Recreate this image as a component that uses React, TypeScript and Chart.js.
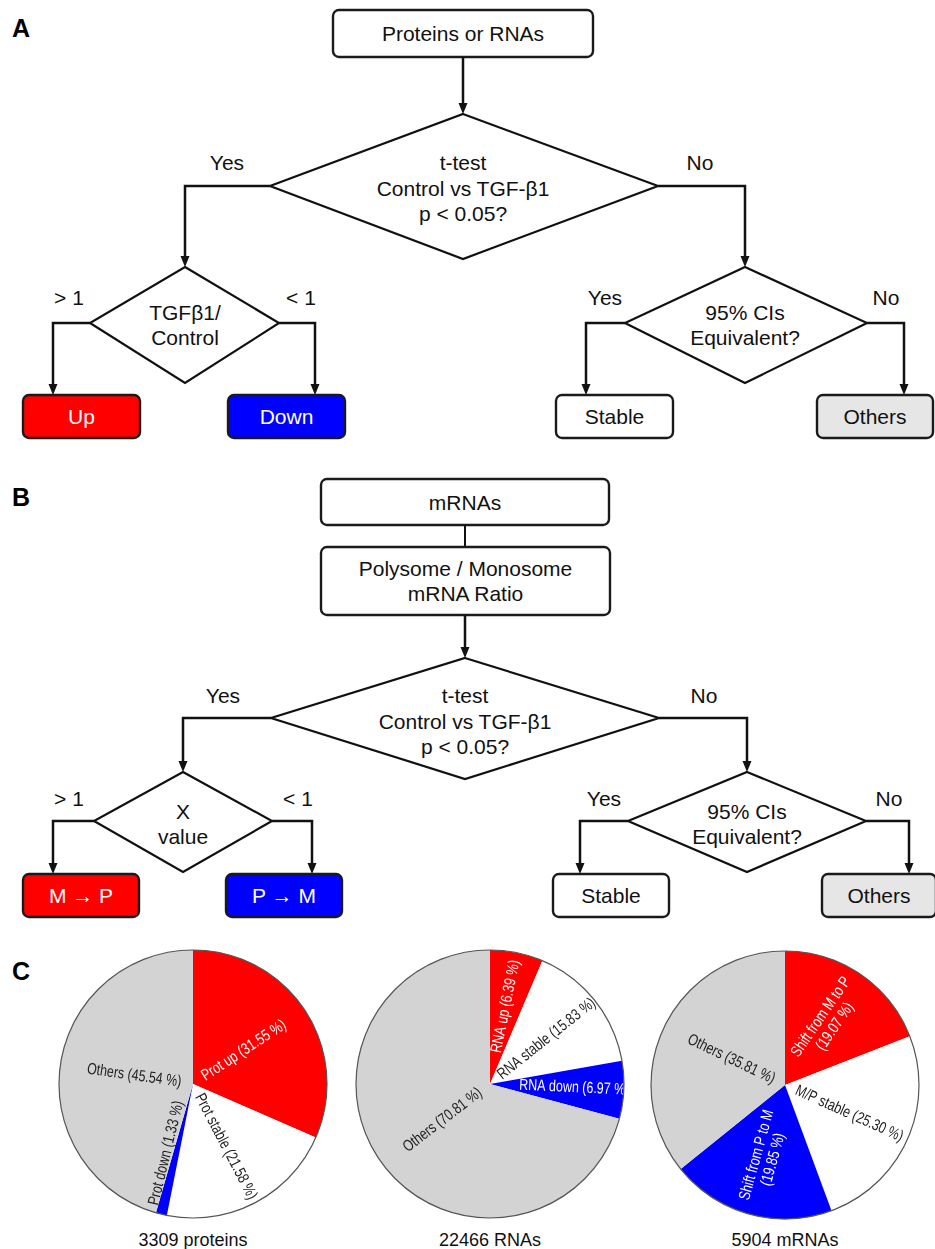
import React, { useEffect, useRef } from "react";
import { Chart, registerables } from "chart.js";

Chart.register(...registerables);

// ---------- Pie data (panel C) ----------
const protCategories = ["Prot up", "Prot stable", "Prot down", "Others"];
const protValues = [31.55, 21.58, 1.33, 45.54];
const protWrap = [false, false, false, false];
const protLabelColors = ["#ffffff", "#222222", "#222222", "#222222"];

const rnaCategories = ["RNA up", "RNA stable", "RNA down", "Others"];
const rnaValues = [6.39, 15.83, 6.97, 70.81];
const rnaWrap = [false, false, false, false];
const rnaLabelColors = ["#ffffff", "#222222", "#ffffff", "#222222"];

const mrnaCategories = ["Shift from M to P", "M/P stable", "Shift from P to M", "Others"];
const mrnaValues = [19.07, 25.3, 19.85, 35.81];
const mrnaWrap = [true, false, true, false];
const mrnaLabelColors = ["#ffffff", "#222222", "#ffffff", "#222222"];

const sliceColors = ["#ff0000", "#ffffff", "#0000ff", "#d3d3d3"];
const pieTitles = ["3309 proteins", "22466 RNAs", "5904 mRNAs"];

const FONT = "'Liberation Sans', Arial, Helvetica, sans-serif";

function labelText(cat: string, v: number, wrap: boolean) {
  const pct = `(${v.toFixed(2)} %)`;
  return wrap ? `${cat}\n${pct}` : `${cat} ${pct}`;
}

const LABEL_SIZE = 16;
const LABEL_SX = 0.78;

const pieDecor = {
  id: "pieDecor",
  afterDatasetsDraw(chart: any, _args: any, opts: any) {
    const ctx = chart.ctx;
    const meta = chart.getDatasetMeta(0);
    let cx = 0, cy = 0, r = 0;
    meta.data.forEach((arc: any, i: number) => {
      const p = arc.getProps(["x", "y", "startAngle", "endAngle", "outerRadius"], true);
      cx = p.x; cy = p.y; r = p.outerRadius;
      const span = p.endAngle - p.startAngle;
      const mid = (p.startAngle + p.endAngle) / 2;
      const narrow = span < 0.15;
      const lines = String(opts.texts[i]).split("\n");
      ctx.save();
      ctx.font = `${LABEL_SIZE}px ${FONT}`;
      const w = Math.max(...lines.map((l: string) => ctx.measureText(l).width)) * LABEL_SX;
      const halfH = 6.5 + (lines.length - 1) * 14;
      const d0 = narrow ? 20 : Math.max(12, halfH / Math.tan(Math.min(span / 2, 1.4)));
      const d = d0 + w / 2;
      const flip = Math.cos(mid) < 0;
      const lx = p.x + Math.cos(mid) * d;
      const ly = p.y + Math.sin(mid) * d;
      ctx.translate(lx, ly);
      ctx.rotate(flip ? mid + Math.PI : mid);
      ctx.scale(LABEL_SX, 1);
      ctx.fillStyle = opts.colors[i];
      ctx.textAlign = "center";
      ctx.textBaseline = "middle";
      const shift = narrow ? -LABEL_SIZE * 0.6 : 0;
      lines.forEach((ln: string, k: number) => {
        ctx.fillText(ln, 0, shift + (k - (lines.length - 1) / 2) * 17);
      });
      ctx.restore();
    });
    ctx.save();
    ctx.beginPath();
    ctx.arc(cx, cy, r, 0, Math.PI * 2);
    ctx.strokeStyle = "#555555";
    ctx.lineWidth = 1.2;
    ctx.stroke();
    ctx.restore();
  },
};

function PieChart(props: { categories: string[]; values: number[]; wrap: boolean[]; colors: string[]; cx: number; cy: number }) {
  const ref = useRef<HTMLCanvasElement | null>(null);
  useEffect(() => {
    if (!ref.current) return;
    const texts = props.categories.map((c, i) => labelText(c, props.values[i], props.wrap[i]));
    const chart = new Chart(ref.current, {
      type: "pie",
      data: {
        labels: props.categories,
        datasets: [
          {
            data: props.values,
            backgroundColor: sliceColors,
            borderWidth: 0,
          },
        ],
      },
      options: {
        responsive: false,
        animation: false,
        events: [],
        layout: { padding: 6 },
        plugins: {
          legend: { display: false },
          tooltip: { enabled: false },
          pieDecor: { texts, colors: props.colors },
        } as any,
      },
      plugins: [pieDecor as any],
    });
    return () => chart.destroy();
  }, []);
  const size = 280;
  return (
    <canvas
      ref={ref}
      width={size}
      height={size}
      style={{ position: "absolute", left: props.cx - size / 2, top: props.cy - size / 2, width: size, height: size }}
    />
  );
}

// ---------- Flowchart helpers ----------
const LW = 2.5;
const INK = "#111111";

function Arrow({ x, y1, y2 }: { x: number; y1: number; y2: number }) {
  return (
    <g>
      <line x1={x} y1={y1} x2={x} y2={y2 - 8} stroke={INK} strokeWidth={LW} />
      <polygon points={`${x - 4.5},${y2 - 11} ${x + 4.5},${y2 - 11} ${x},${y2}`} fill={INK} />
    </g>
  );
}

function Elbow({ x1, y1, x2, y2 }: { x1: number; y1: number; x2: number; y2: number }) {
  return (
    <g>
      <polyline points={`${x1},${y1} ${x2},${y1} ${x2},${y2 - 8}`} fill="none" stroke={INK} strokeWidth={LW} strokeLinejoin="miter" />
      <polygon points={`${x2 - 4.5},${y2 - 11} ${x2 + 4.5},${y2 - 11} ${x2},${y2}`} fill={INK} />
    </g>
  );
}

function Box({ x, y, w, h, fill, lines, color }: { x: number; y: number; w: number; h: number; fill: string; lines: string[]; color?: string }) {
  const cyc = y + h / 2;
  const lh = 25;
  return (
    <g>
      <rect x={x} y={y} width={w} height={h} rx={6} ry={6} fill={fill} stroke="#1a1a1a" strokeWidth={2.4} />
      {lines.map((t, i) => (
        <text key={i} x={x + w / 2} y={cyc + 7.5 + (i - (lines.length - 1) / 2) * lh} textAnchor="middle" fontSize={21} fontFamily={FONT} fill={color || INK}>
          {t}
        </text>
      ))}
    </g>
  );
}

function Diamond({ cx, top, bottom, left, right, midY, lines }: { cx: number; top: number; bottom: number; left: number; right: number; midY: number; lines: { t: string; y: number }[] }) {
  return (
    <g>
      <polygon points={`${cx},${top} ${right},${midY} ${cx},${bottom} ${left},${midY}`} fill="#ffffff" stroke={INK} strokeWidth={2.2} strokeLinejoin="miter" />
      {lines.map((l, i) => (
        <text key={i} x={cx} y={l.y} textAnchor="middle" fontSize={21} fontFamily={FONT} fill={INK}>
          {l.t}
        </text>
      ))}
    </g>
  );
}

function Label({ x, y, t }: { x: number; y: number; t: string }) {
  return (
    <text x={x} y={y} textAnchor="middle" fontSize={21} fontFamily={FONT} fill={INK}>
      {t}
    </text>
  );
}

function PanelLetter({ x, y, t }: { x: number; y: number; t: string }) {
  return (
    <text x={x} y={y} fontSize={25} fontWeight="bold" fontFamily={FONT} fill="#000">
      {t}
    </text>
  );
}

function Flowcharts() {
  return (
    <svg width={935} height={1249} style={{ position: "absolute", left: 0, top: 0 }}>
      {/* Panel A */}
      <PanelLetter x={12} y={37} t="A" />
      <Box x={333} y={10} w={260} h={47} fill="#fff" lines={["Proteins or RNAs"]} />
      <Arrow x={463} y1={57} y2={114} />
      <Diamond cx={463} top={114} bottom={259} left={270} right={658} midY={186}
        lines={[{ t: "t-test", y: 170 }, { t: "Control vs TGF-β1", y: 196 }, { t: "p < 0.05?", y: 221 }]} />
      <Label x={227} y={170} t="Yes" />
      <Label x={700} y={170} t="No" />
      <Elbow x1={270} y1={186} x2={185} y2={267} />
      <Elbow x1={658} y1={186} x2={745} y2={267} />
      <Diamond cx={185} top={267} bottom={383} left={90} right={279} midY={323}
        lines={[{ t: "TGFβ1/", y: 320 }, { t: "Control", y: 345 }]} />
      <Label x={69} y={305} t="> 1" />
      <Label x={301} y={305} t="< 1" />
      <Elbow x1={90} y1={323} x2={53} y2={395} />
      <Elbow x1={279} y1={323} x2={315} y2={395} />
      <Box x={23} y={395} w={117} h={43} fill="#ff0000" color="#ffffff" lines={["Up"]} />
      <Box x={228} y={395} w={117} h={43} fill="#0000ff" color="#ffffff" lines={["Down"]} />
      <Diamond cx={745} top={267} bottom={383} left={625} right={867} midY={323}
        lines={[{ t: "95% CIs", y: 320 }, { t: "Equivalent?", y: 345 }]} />
      <Label x={605} y={305} t="Yes" />
      <Label x={886} y={305} t="No" />
      <Elbow x1={625} y1={323} x2={586} y2={395} />
      <Elbow x1={867} y1={323} x2={904} y2={395} />
      <Box x={556} y={395} w={117} h={43} fill="#ffffff" lines={["Stable"]} />
      <Box x={817} y={395} w={116} h={43} fill="#e6e6e6" lines={["Others"]} />

      {/* Panel B */}
      <PanelLetter x={12} y={506} t="B" />
      <Box x={321} y={479} w={288} h={46} fill="#fff" lines={["mRNAs"]} />
      <line x1={465} y1={525} x2={465} y2={547} stroke={INK} strokeWidth={2} />
      <Box x={321} y={547} w={289} h={68} fill="#fff" lines={["Polysome / Monosome", "mRNA Ratio"]} />
      <Arrow x={465} y1={615} y2={658} />
      <Diamond cx={465} top={658} bottom={779} left={271} right={659} midY={718}
        lines={[{ t: "t-test", y: 703 }, { t: "Control vs TGF-β1", y: 729 }, { t: "p < 0.05?", y: 754 }]} />
      <Label x={223} y={703} t="Yes" />
      <Label x={704} y={703} t="No" />
      <Elbow x1={271} y1={718} x2={183} y2={772} />
      <Elbow x1={659} y1={718} x2={747} y2={772} />
      <Diamond cx={183} top={772} bottom={872} left={94} right={272} midY={821}
        lines={[{ t: "X", y: 819 }, { t: "value", y: 844 }]} />
      <Label x={69} y={806} t="> 1" />
      <Label x={298} y={806} t="< 1" />
      <Elbow x1={94} y1={821} x2={53} y2={874} />
      <Elbow x1={272} y1={821} x2={312} y2={874} />
      <Box x={23} y={874} w={116} h={43} fill="#ff0000" color="#ffffff" lines={["M → P"]} />
      <Box x={226} y={874} w={116} h={43} fill="#0000ff" color="#ffffff" lines={["P → M"]} />
      <Diamond cx={747} top={772} bottom={872} left={628} right={866} midY={821}
        lines={[{ t: "95% CIs", y: 819 }, { t: "Equivalent?", y: 844 }]} />
      <Label x={604} y={806} t="Yes" />
      <Label x={889} y={806} t="No" />
      <Elbow x1={628} y1={821} x2={580} y2={874} />
      <Elbow x1={866} y1={821} x2={909} y2={874} />
      <Box x={553} y={874} w={116} h={43} fill="#ffffff" lines={["Stable"]} />
      <Box x={822} y={874} w={114} h={43} fill="#e6e6e6" lines={["Others"]} />

      {/* Panel C */}
      <PanelLetter x={12} y={980} t="C" />
      <text x={193} y={1246} textAnchor="middle" fontSize={18} fontFamily={FONT} fill={INK}>{pieTitles[0]}</text>
      <text x={490} y={1246} textAnchor="middle" fontSize={18} fontFamily={FONT} fill={INK}>{pieTitles[1]}</text>
      <text x={785} y={1246} textAnchor="middle" fontSize={18} fontFamily={FONT} fill={INK}>{pieTitles[2]}</text>
    </svg>
  );
}

export default function App() {
  return (
    <div style={{ position: "absolute", left: 0, top: 0, width: 935, height: 1249, background: "#ffffff", overflow: "hidden" }}>
      <Flowcharts />
      <PieChart categories={protCategories} values={protValues} wrap={protWrap} colors={protLabelColors} cx={193} cy={1084} />
      <PieChart categories={rnaCategories} values={rnaValues} wrap={rnaWrap} colors={rnaLabelColors} cx={490} cy={1084} />
      <PieChart categories={mrnaCategories} values={mrnaValues} wrap={mrnaWrap} colors={mrnaLabelColors} cx={785} cy={1085} />
    </div>
  );
}
